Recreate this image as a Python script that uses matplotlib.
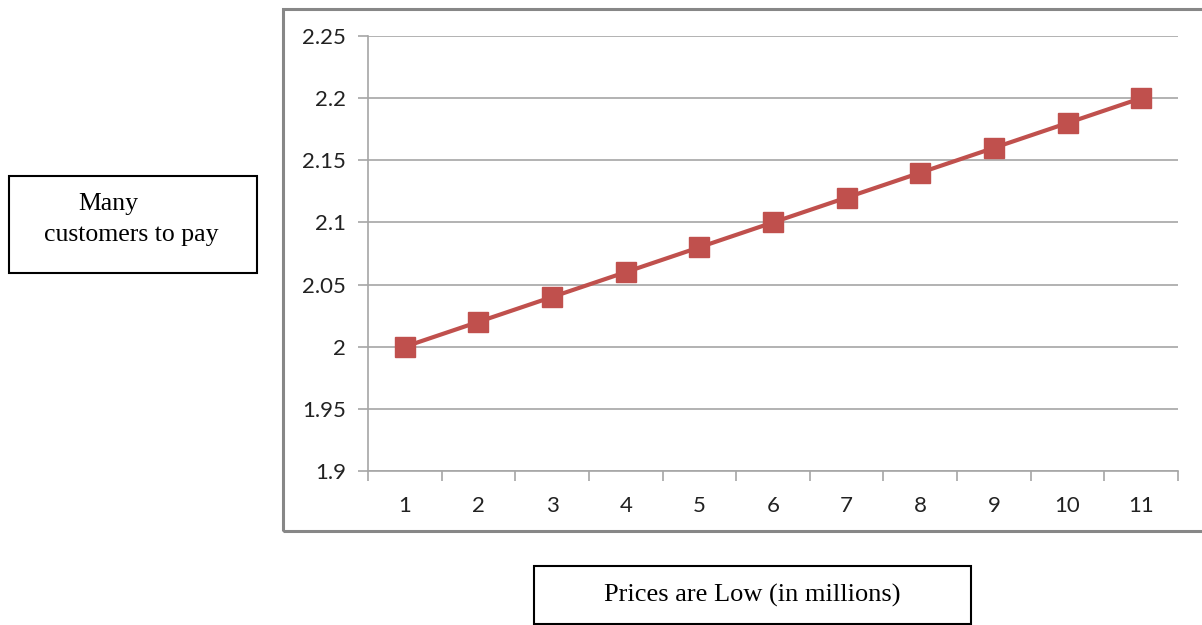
import numpy as np
import matplotlib
matplotlib.use("Agg")
from matplotlib import pyplot as plt
from matplotlib.patches import Rectangle

# price level (category) vs. customers willing to pay
periods = [1, 2, 3, 4, 5, 6, 7, 8, 9, 10, 11]
customers = [2.0, 2.02, 2.04, 2.06, 2.08, 2.10, 2.12, 2.14, 2.16, 2.18, 2.20]
y_ticks = [1.9, 1.95, 2.0, 2.05, 2.1, 2.15, 2.2, 2.25]
y_labels = ["1.9", "1.95", "2", "2.05", "2.1", "2.15", "2.2", "2.25"]

W, H = 1202, 625
fig = plt.figure(figsize=(W / 100, H / 100), dpi=100)

# chart frame
fig.patches.append(Rectangle((283 / W, 1 - 531 / H), 1.0, (531 - 9) / H,
                             transform=fig.transFigure, fill=False,
                             edgecolor="#878787", linewidth=2.2, clip_on=False))

ax = fig.add_axes([368 / W, 1 - 471 / H, (1178 - 368) / W, (471 - 36) / H])

x_pos = np.arange(1, len(periods) + 1)
ax.plot(x_pos, customers, color="#C0504D", linewidth=3, marker="s",
        markersize=14, markerfacecolor="#C0504D", markeredgecolor="#C0504D",
        zorder=3)

ax.set_xlim(0.5, len(periods) + 0.5)
ax.set_ylim(1.9, 2.25)
ax.set_yticks(y_ticks)
ax.set_yticklabels(y_labels)
ax.set_xticks(x_pos)
ax.set_xticklabels([str(p) for p in periods])
ax.set_xticks(np.arange(0.5, len(periods) + 1), minor=True)

ax.yaxis.grid(True, color="#A6A6A6", linewidth=1.2)
ax.set_axisbelow(True)

for side in ("top", "right"):
    ax.spines[side].set_visible(False)
for side in ("left", "bottom"):
    ax.spines[side].set_color("#A6A6A6")
    ax.spines[side].set_linewidth(1.2)

ax.tick_params(axis="x", which="major", length=0, pad=18)
ax.tick_params(axis="x", which="minor", length=7, color="#A6A6A6", width=1.2)
ax.tick_params(axis="y", length=7, color="#A6A6A6", width=1.2, pad=9)
for lab in ax.get_xticklabels() + ax.get_yticklabels():
    lab.set_fontfamily("Lato")
    lab.set_fontsize(16)
    lab.set_color("#222222")

# text boxes
fig.patches.append(Rectangle((9 / W, 1 - 273 / H), (257 - 9) / W, (273 - 176) / H,
                             transform=fig.transFigure, fill=False,
                             edgecolor="black", linewidth=1.5))
fig.text(78 / W, 1 - 204 / H, "Many", fontfamily="Liberation Serif",
         fontsize=18.5, ha="left", va="center")
fig.text(44 / W, 1 - 235 / H, "customers to pay", fontfamily="Liberation Serif",
         fontsize=18.5, ha="left", va="center")

fig.patches.append(Rectangle((534 / W, 1 - 624 / H), (971 - 534) / W, (624 - 566) / H,
                             transform=fig.transFigure, fill=False,
                             edgecolor="black", linewidth=1.5))
fig.text(752 / W, 1 - 595 / H, "Prices are Low (in millions)",
         fontfamily="Liberation Serif", fontsize=19, ha="center", va="center")

fig.savefig("out.png", dpi=100)
